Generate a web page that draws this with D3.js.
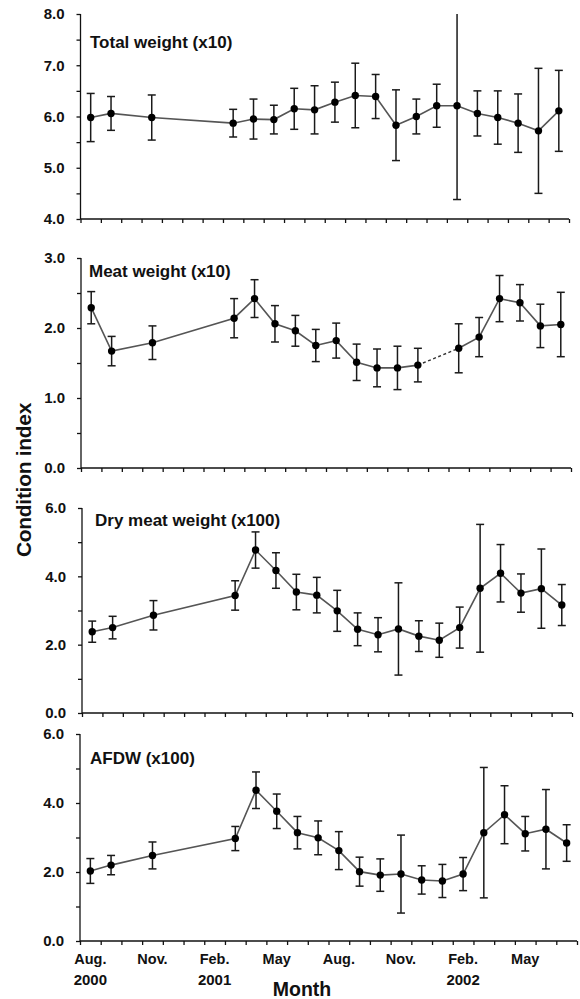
<!DOCTYPE html>
<html lang="en">

<head>
    <meta charset="utf-8">
    <title>Condition index</title>
    <script src="https://d3js.org/d3.v7.min.js"></script>
    <style>
        body { margin: 0; background: #fff; }
        svg text { font-family: "Liberation Sans", Arial, sans-serif; font-weight: bold; fill: #111; }
    </style>
</head>

<body>
    <div id="my_dataviz"></div>

    <script>
        // 24 month slots, Aug 2000 .. Jul 2002
        var months = ["2000-08", "2000-09", "2000-10", "2000-11", "2000-12", "2001-01", "2001-02", "2001-03",
            "2001-04", "2001-05", "2001-06", "2001-07", "2001-08", "2001-09", "2001-10", "2001-11", "2001-12",
            "2002-01", "2002-02", "2002-03", "2002-04", "2002-05", "2002-06", "2002-07"]
        var sampleDates = ["2000-08", "2000-09", "2000-11", "2001-03", "2001-04", "2001-05", "2001-06", "2001-07",
            "2001-08", "2001-09", "2001-10", "2001-11", "2001-12", "2002-01", "2002-02", "2002-03", "2002-04",
            "2002-05", "2002-06", "2002-07"]

        var monthLabels = ["Aug.", "Nov.", "Feb.", "May", "Aug.", "Nov.", "Feb.", "May"]
        var monthLabelAt = ["2000-08", "2000-11", "2001-02", "2001-05", "2001-08", "2001-11", "2002-02", "2002-05"]
        var yearLabels = ["2000", "2001", "2002"]
        var yearLabelAt = ["2000-08", "2001-02", "2002-02"]

        var totalMean = [5.98, 6.06, 5.98, 5.87, 5.95, 5.94, 6.15, 6.13, 6.28, 6.41, 6.39, 5.83, 6.00, 6.21, 6.21, 6.06, 5.98, 5.87, 5.72, 6.11]
        var totalErr = [0.47, 0.33, 0.44, 0.27, 0.39, 0.28, 0.40, 0.47, 0.39, 0.63, 0.43, 0.69, 0.34, 0.42, 1.83, 0.44, 0.52, 0.57, 1.22, 0.79]

        var meatMean = [2.29, 1.67, 1.79, 2.14, 2.42, 2.06, 1.96, 1.75, 1.82, 1.51, 1.43, 1.43, 1.47, null, 1.71, 1.87, 2.42, 2.36, 2.03, 2.05]
        var meatErr = [0.23, 0.21, 0.24, 0.28, 0.27, 0.26, 0.22, 0.23, 0.25, 0.26, 0.27, 0.31, 0.24, null, 0.35, 0.28, 0.33, 0.26, 0.31, 0.46]

        var dryMean = [2.38, 2.50, 2.86, 3.44, 4.77, 4.17, 3.54, 3.45, 2.99, 2.45, 2.29, 2.46, 2.25, 2.13, 2.50, 3.65, 4.09, 3.51, 3.64, 3.16]
        var dryErr = [0.31, 0.33, 0.43, 0.43, 0.53, 0.52, 0.52, 0.52, 0.60, 0.48, 0.50, 1.35, 0.45, 0.50, 0.60, 1.87, 0.84, 0.56, 1.16, 0.60]

        var afdwMean = [2.03, 2.20, 2.48, 2.97, 4.37, 3.76, 3.14, 2.99, 2.62, 2.01, 1.91, 1.94, 1.77, 1.74, 1.94, 3.14, 3.66, 3.11, 3.24, 2.84]
        var afdwErr = [0.36, 0.28, 0.39, 0.35, 0.53, 0.50, 0.47, 0.49, 0.55, 0.42, 0.47, 1.13, 0.41, 0.48, 0.48, 1.89, 0.84, 0.50, 1.15, 0.53]

        var panels = [
            { title: "Total weight (x10)", mean: totalMean, err: totalErr, domain: [4, 8], step: 0.5, labelStep: 1,
              top: 14, bottom: 219, left: 80.5, right: 569, tx: 90, ty: 48 },
            { title: "Meat weight (x10)", mean: meatMean, err: meatErr, domain: [0, 3], step: 0.5, labelStep: 1,
              top: 258, bottom: 468, left: 81, right: 571, tx: 89, ty: 277 },
            { title: "Dry meat weight (x100)", mean: dryMean, err: dryErr, domain: [0, 6], step: 1, labelStep: 2,
              top: 508, bottom: 713, left: 82, right: 572, tx: 95, ty: 526 },
            { title: "AFDW (x100)", mean: afdwMean, err: afdwErr, domain: [0, 6], step: 1, labelStep: 2,
              top: 734, bottom: 941, left: 80, right: 577, tx: 90, ty: 764 }
        ]

        var width = 580, height = 999

        var svg = d3.select("#my_dataviz")
            .append("svg")
            .attr("width", width)
            .attr("height", height)

        panels.forEach(function (p, k) {
            var x = d3.scaleLinear().domain([0, months.length]).range([p.left, p.right])
            var y = d3.scaleLinear().domain(p.domain).range([p.bottom, p.top])
            var g = svg.append("g")

            // month slot centre for each sample
            var data = sampleDates.map(function (s, i) {
                return { m: months.indexOf(s) + 0.5, v: p.mean[i], e: p.err[i] }
            })

            // y axis, minor ticks every step, labels every labelStep
            var yTicks = d3.range(p.domain[0], p.domain[1] + 1e-9, p.step)
            var yAxis = d3.axisLeft(y)
                .tickValues(yTicks)
                .tickSize(4)
                .tickPadding(12)
                .tickFormat(function (d) {
                    return Math.abs(d / p.labelStep - Math.round(d / p.labelStep)) < 1e-6 ? d3.format(".1f")(d) : ""
                })
            var ya = g.append("g").attr("transform", "translate(" + p.left + ",0)").call(yAxis)
            ya.select(".domain").attr("d", "M0," + p.top + "V" + p.bottom)
            ya.selectAll("text").style("font-size", "15px")

            // x axis, ticks between months
            var xAxis = d3.axisBottom(x)
                .tickValues(d3.range(months.length + 1))
                .tickSize(4)
                .tickFormat("")
            var xa = g.append("g").attr("transform", "translate(0," + p.bottom + ")").call(xAxis)
            xa.select(".domain").attr("d", "M" + p.left + ",0H" + p.right)

            g.selectAll(".domain, .tick line").attr("stroke", "#111").attr("stroke-width", 1.3)

            // solid line through sampled points, dashed over missing ones
            var line = d3.line()
                .defined(function (d) { return d.v != null })
                .x(function (d) { return x(d.m) })
                .y(function (d) { return y(d.v) })
            g.append("path")
                .datum(data)
                .attr("d", line)
                .attr("fill", "none")
                .attr("stroke", "#555")
                .attr("stroke-width", 1.6)

            var present = data.filter(function (d) { return d.v != null })
            var gaps = []
            for (var i = 1; i < present.length; i++) {
                var a = data.indexOf(present[i - 1]), b = data.indexOf(present[i])
                if (b - a > 1) gaps.push([present[i - 1], present[i]])
            }
            g.selectAll("line.gap")
                .data(gaps)
                .enter()
                .append("line")
                .attr("class", "gap")
                .attr("x1", function (d) { return x(d[0].m) })
                .attr("y1", function (d) { return y(d[0].v) })
                .attr("x2", function (d) { return x(d[1].m) })
                .attr("y2", function (d) { return y(d[1].v) })
                .attr("stroke", "#333")
                .attr("stroke-width", 1.4)
                .attr("stroke-dasharray", "3,2.5")

            // error bars, clipped at axis range
            var lo = function (d) { return y(Math.max(p.domain[0], d.v - d.e)) }
            var hi = function (d) { return y(Math.min(p.domain[1], d.v + d.e)) }
            var bars = g.selectAll("g.bar")
                .data(present)
                .enter()
                .append("g")
                .attr("class", "bar")
                .attr("stroke", "#1a1a1a")
                .attr("stroke-width", 1.5)
            bars.append("line")
                .attr("x1", function (d) { return x(d.m) })
                .attr("x2", function (d) { return x(d.m) })
                .attr("y1", lo)
                .attr("y2", hi)
            bars.filter(function (d) { return d.v + d.e <= p.domain[1] })
                .append("line")
                .attr("x1", function (d) { return x(d.m) - 4 })
                .attr("x2", function (d) { return x(d.m) + 4 })
                .attr("y1", hi)
                .attr("y2", hi)
            bars.append("line")
                .attr("x1", function (d) { return x(d.m) - 4 })
                .attr("x2", function (d) { return x(d.m) + 4 })
                .attr("y1", lo)
                .attr("y2", lo)

            g.selectAll("circle")
                .data(present)
                .enter()
                .append("circle")
                .attr("cx", function (d) { return x(d.m) })
                .attr("cy", function (d) { return y(d.v) })
                .attr("r", 3.7)
                .attr("fill", "#000")

            g.append("text")
                .attr("x", p.tx)
                .attr("y", p.ty)
                .style("font-size", "17px")
                .text(p.title)

            // month and year labels only under the last panel
            if (k == panels.length - 1) {
                g.selectAll("text.month")
                    .data(monthLabels)
                    .enter()
                    .append("text")
                    .attr("class", "month")
                    .attr("x", function (d, i) { return x(months.indexOf(monthLabelAt[i]) + 0.5) })
                    .attr("y", 964)
                    .attr("text-anchor", "middle")
                    .style("font-size", "14.5px")
                    .text(function (d) { return d })
                g.selectAll("text.year")
                    .data(yearLabels)
                    .enter()
                    .append("text")
                    .attr("class", "year")
                    .attr("x", function (d, i) { return x(months.indexOf(yearLabelAt[i]) + 0.5) })
                    .attr("y", 985)
                    .attr("text-anchor", "middle")
                    .style("font-size", "15px")
                    .text(function (d) { return d })
            }
        })

        svg.append("text")
            .attr("transform", "translate(31,480) rotate(-90)")
            .attr("text-anchor", "middle")
            .style("font-size", "21px")
            .style("letter-spacing", "-0.3px")
            .text("Condition index")

        svg.append("text")
            .attr("x", 302)
            .attr("y", 996)
            .attr("text-anchor", "middle")
            .style("font-size", "19.5px")
            .text("Month")
    </script>
</body>

</html>
